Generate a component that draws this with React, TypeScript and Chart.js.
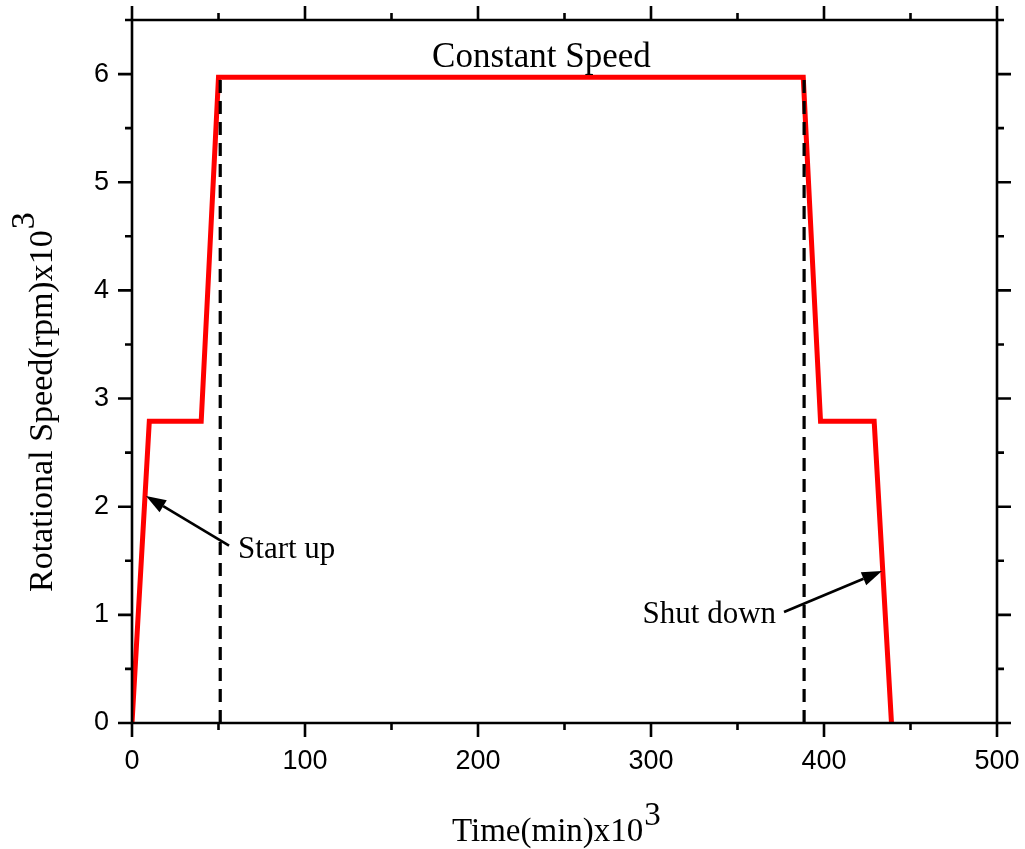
import React, { useEffect, useRef } from "react";
import { Chart, registerables } from "chart.js";

Chart.register(...registerables);

// ---- data ----
const timeValues = [0, 10, 40, 50, 388, 398, 429, 439];
const speedValues = [0, 2.79, 2.79, 5.97, 5.97, 2.79, 2.79, 0];
const markerTimes = [51, 388.5];
const markerTop = 5.97;

const xMajorTicks = [0, 100, 200, 300, 400, 500];
const xMinorTicks = [50, 150, 250, 350, 450];
const yMajorTicks = [0, 1, 2, 3, 4, 5, 6];
const yMinorTicks = [0.5, 1.5, 2.5, 3.5, 4.5, 5.5, 6.5];

const xTitle = "Time(min)x10";
const yTitle = "Rotational Speed(rpm)x10";
const titleSup = "3";

// annotation labels
const labelTexts = ["Constant Speed", "Start up", "Shut down"];
const labelX = [236.7, 61.3, 372.3];
const labelY = [6.066, 1.526, 0.925];
// arrows: tail -> tip
const arrowTailX = [56.1, 376.9];
const arrowTailY = [1.64, 1.026];
const arrowTipX = [8.1, 433.5];
const arrowTipY = [2.1, 1.405];

const SERIF = '"Liberation Serif", "Times New Roman", serif';
const SANS = '"Liberation Sans", Arial, sans-serif';

const decorPlugin = {
  id: "decor",
  afterDraw(chart: any) {
    const ctx = chart.ctx as CanvasRenderingContext2D;
    const xs = chart.scales.x;
    const ys = chart.scales.y;
    const { left, right, top, bottom } = chart.chartArea;
    ctx.save();
    ctx.strokeStyle = "#000";
    ctx.fillStyle = "#000";
    ctx.lineWidth = 2.6;
    ctx.lineCap = "butt";
    // frame
    ctx.beginPath();
    ctx.rect(left, top, right - left, bottom - top);
    ctx.stroke();
    const major = 14;
    const minor = 7;
    ctx.beginPath();
    const xt = (v: number, len: number) => {
      const px = xs.getPixelForValue(v);
      ctx.moveTo(px, bottom);
      ctx.lineTo(px, bottom + len);
      ctx.moveTo(px, top);
      ctx.lineTo(px, top - len);
    };
    const yt = (v: number, len: number) => {
      const py = ys.getPixelForValue(v);
      ctx.moveTo(left, py);
      ctx.lineTo(left - len, py);
      ctx.moveTo(right, py);
      ctx.lineTo(right + len, py);
    };
    xMajorTicks.forEach((v) => xt(v, major));
    xMinorTicks.forEach((v) => xt(v, minor));
    yMajorTicks.forEach((v) => yt(v, major));
    yMinorTicks.forEach((v) => yt(v, minor));
    ctx.stroke();

    // arrows
    ctx.lineWidth = 2.6;
    for (let i = 0; i < arrowTailX.length; i++) {
      const x0 = xs.getPixelForValue(arrowTailX[i]);
      const y0 = ys.getPixelForValue(arrowTailY[i]);
      const x1 = xs.getPixelForValue(arrowTipX[i]);
      const y1 = ys.getPixelForValue(arrowTipY[i]);
      const ang = Math.atan2(y1 - y0, x1 - x0);
      const hl = 20;
      const hw = 7;
      const bx = x1 - hl * Math.cos(ang);
      const by = y1 - hl * Math.sin(ang);
      ctx.beginPath();
      ctx.moveTo(x0, y0);
      ctx.lineTo(bx, by);
      ctx.stroke();
      ctx.beginPath();
      ctx.moveTo(x1, y1);
      ctx.lineTo(bx + hw * Math.sin(ang), by - hw * Math.cos(ang));
      ctx.lineTo(bx - hw * Math.sin(ang), by + hw * Math.cos(ang));
      ctx.closePath();
      ctx.fill();
    }

    // annotation labels
    ctx.textBaseline = "alphabetic";
    const aligns: CanvasTextAlign[] = ["center", "left", "right"];
    const sizes = [35, 31, 31];
    for (let i = 0; i < labelTexts.length; i++) {
      ctx.font = `${sizes[i]}px ${SERIF}`;
      ctx.textAlign = aligns[i];
      ctx.fillText(
        labelTexts[i],
        xs.getPixelForValue(labelX[i]),
        ys.getPixelForValue(labelY[i])
      );
    }

    // x title
    ctx.textAlign = "left";
    ctx.font = `33px ${SERIF}`;
    const xtx = 452;
    const xty = 841;
    ctx.fillText(xTitle, xtx, xty);
    const xw = ctx.measureText(xTitle).width;
    ctx.fillText(titleSup, xtx + xw + 1, xty - 16);

    // y title
    ctx.save();
    ctx.translate(52, 592);
    ctx.rotate(-Math.PI / 2);
    ctx.font = `34px ${SERIF}`;
    ctx.fillText(yTitle, 0, 0);
    const yw = ctx.measureText(yTitle).width;
    ctx.fillText(titleSup, yw + 1, -18);
    ctx.restore();

    ctx.restore();
  },
};

const zeroPad = (s: any) => {
  s.paddingTop = 0;
  s.paddingBottom = 0;
  s.paddingLeft = 0;
  s.paddingRight = 0;
};

export default function App() {
  const ref = useRef<HTMLCanvasElement | null>(null);
  useEffect(() => {
    document.body.style.margin = "0";
    if (!ref.current) return;
    const mainData = timeValues.map((t, i) => ({ x: t, y: speedValues[i] }));
    const markerSets = markerTimes.map((t) => ({
      type: "line" as const,
      data: [
        { x: t, y: 0 },
        { x: t, y: markerTop },
      ],
      borderColor: "#000",
      borderWidth: 3.2,
      borderDash: [13, 8],
      pointRadius: 0,
      showLine: true,
      fill: false,
      order: 0,
    }));
    const chart = new Chart(ref.current, {
      type: "scatter",
      data: {
        datasets: [
          ...markerSets,
          {
            data: mainData,
            borderColor: "#ff0000",
            borderWidth: 5,
            pointRadius: 0,
            showLine: true,
            fill: false,
            tension: 0,
            order: 1,
          } as any,
        ],
      },
      options: {
        responsive: false,
        animation: false,
        devicePixelRatio: 1,
        layout: { padding: { top: 20, right: 28, left: 0, bottom: 0 } },
        plugins: {
          legend: { display: false },
          tooltip: { enabled: false },
          title: { display: false },
        },
        scales: {
          x: {
            type: "linear",
            min: 0,
            max: 500,
            grid: { display: false, drawTicks: false },
            border: { display: false },
            afterFit: (s: any) => {
              s.height = 126;
              zeroPad(s);
            },
            afterBuildTicks: (s: any) => {
              s.ticks = xMajorTicks.map((v) => ({ value: v }));
            },
            ticks: {
              color: "#000",
              font: { family: SANS, size: 27 },
              padding: 22,
              maxRotation: 0,
              autoSkip: false,
            },
          },
          y: {
            type: "linear",
            min: 0,
            max: 6.5,
            grid: { display: false, drawTicks: false },
            border: { display: false },
            afterFit: (s: any) => {
              s.width = 132;
              zeroPad(s);
            },
            afterBuildTicks: (s: any) => {
              s.ticks = yMajorTicks.map((v) => ({ value: v }));
            },
            ticks: {
              color: "#000",
              font: { family: SANS, size: 27 },
              padding: 23,
              autoSkip: false,
            },
          },
        },
      },
      plugins: [decorPlugin],
    });
    return () => chart.destroy();
  }, []);
  return (
    <canvas
      ref={ref}
      width={1025}
      height={849}
      style={{ display: "block", width: 1025, height: 849 }}
    />
  );
}
